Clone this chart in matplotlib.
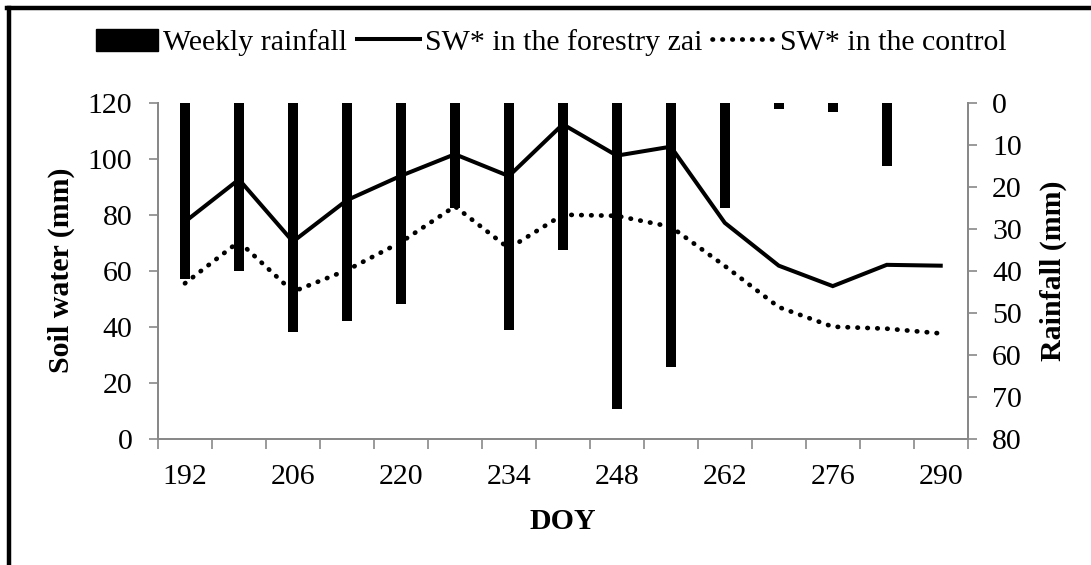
import numpy as np
import matplotlib
matplotlib.use("Agg")
import matplotlib.pyplot as plt
from matplotlib.patches import Patch
from matplotlib.lines import Line2D

plt.rcParams['font.family'] = ['Liberation Serif', 'DejaVu Serif']

# day of year, one value per week
doy = [192, 199, 206, 213, 220, 227, 234, 241, 248, 255, 262, 269, 276, 283, 290]
rain = [42, 40, 54.5, 52, 48, 25, 54, 35, 73, 63, 25, 1.5, 2.3, 15, 0]
sw_zai = [77.5, 92.6, 70.4, 85.2, 93.9, 101.6, 93.8, 112.3, 101.1, 104.3,
          77.1, 61.8, 54.5, 62.1, 61.8]
sw_control = [55.5, 70.4, 52.5, 60.2, 70.2, 83, 68, 80, 79.6, 75.7,
              61.7, 47, 40, 39.3, 37.6]

grey = '#898989'
fs = 21.5

fig = plt.figure(figsize=(10.91, 5.65), dpi=100)
ax = fig.add_axes([0.1448, 0.2235, 0.7422, 0.5947])
ax2 = ax.twinx()

x = np.arange(len(doy))

ax2.bar(x, rain, width=0.18, color='black', zorder=2)
ax.plot(x, sw_zai, color='black', lw=2.9, solid_joinstyle='miter', zorder=3)
ax.plot(x, sw_control, color='black', lw=3.4, linestyle=(0, (0.1, 2.0)),
        dash_capstyle='round', zorder=3)
ax.set_zorder(ax2.get_zorder() + 1)
ax.patch.set_visible(False)

ax.set_xlim(-0.5, len(doy) - 0.5)
ax.set_ylim(0, 120)
ax.set_yticks(range(0, 121, 20))
ax2.set_ylim(80, 0)
ax2.set_yticks(range(0, 81, 10))

# category labels every other week, tick marks on the category borders
ax.set_xticks(x[::2])
ax.set_xticklabels([str(d) for d in doy[::2]])
ax.set_xticks(np.arange(-0.5, len(doy), 1.0), minor=True)
ax.tick_params(axis='x', which='major', length=0, pad=18, labelsize=fs)
ax.tick_params(axis='x', which='minor', length=7, width=1.2, color=grey)
ax.tick_params(axis='y', length=6.5, width=1.2, color=grey, pad=12, labelsize=fs)
ax2.tick_params(axis='y', length=6.5, width=1.2, color=grey, pad=11, labelsize=fs)

for a in (ax, ax2):
    a.spines['top'].set_visible(False)
    for s in ('left', 'right', 'bottom'):
        a.spines[s].set_color(grey)
        a.spines[s].set_linewidth(1.4)

ax.set_ylabel('Soil water (mm)', fontsize=fs, fontweight='bold')
ax.yaxis.set_label_coords(-0.1025, 0.5)
ax2.set_ylabel('Rainfall (mm)', fontsize=fs, fontweight='bold')
ax2.yaxis.set_label_coords(1.089, 0.5)
ax.set_xlabel('DOY', fontsize=fs, fontweight='bold')
ax.xaxis.set_label_coords(0.5, -0.205)

handles = [
    Patch(facecolor='black', edgecolor='black'),
    Line2D([], [], color='black', lw=2.9),
    Line2D([], [], color='black', lw=3.4, linestyle=(0, (0.1, 2.0)),
           dash_capstyle='round'),
]
labels = ['Weekly rainfall', 'SW* in the forestry zai', 'SW* in the control']
fig.legend(handles, labels, ncol=3, frameon=False, loc='center',
           bbox_to_anchor=(0.505, 0.925), fontsize=fs, handlelength=2.1,
           handleheight=0.75, handletextpad=0.15, columnspacing=0.35)

# outer frame, left and top edges
fig.add_artist(Line2D([9 / 1091, 9 / 1091], [0, 1 - 8 / 565], color='black',
                      lw=3.2, transform=fig.transFigure))
fig.add_artist(Line2D([7 / 1091, 1], [1 - 8 / 565, 1 - 8 / 565], color='black',
                      lw=3.2, transform=fig.transFigure))

fig.savefig('out.png', dpi=100)
